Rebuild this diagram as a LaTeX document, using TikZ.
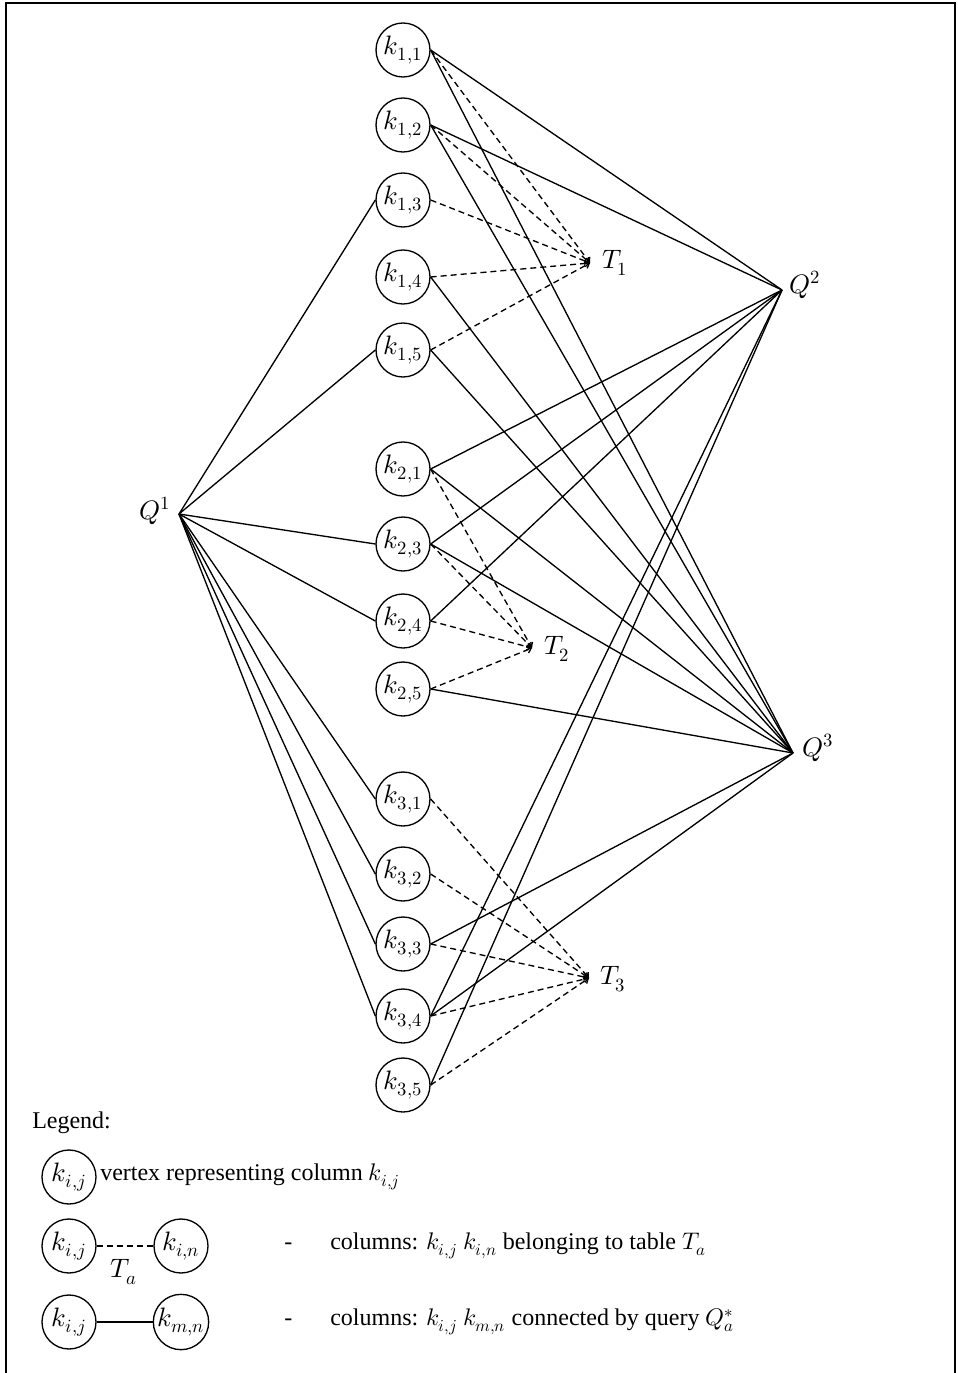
\documentclass[tikz,border=0pt]{standalone}
\usepackage{fontspec}
\usepackage{unicode-math}
\setmainfont{Liberation Serif}
\setmathfont{Latin Modern Math}
\usetikzlibrary{arrows.meta}
\begin{document}
\begin{tikzpicture}[x=0.75pt,y=-0.75pt,
 kv/.style={draw,circle,line width=1pt,minimum size=40.5pt,inner sep=0pt,font=\fontsize{20}{22}\selectfont},
 qe/.style={line width=1pt},
 te/.style={line width=1pt,dash pattern=on 4.5pt off 3pt,-{Straight Barb[length=3pt,width=5pt]}},
 lbl/.style={font=\fontsize{20}{22}\selectfont,inner sep=0pt},
 txt/.style={font=\fontsize{18}{20}\selectfont,anchor=west,inner sep=0pt}]
\useasboundingbox (0,0) rectangle (957,1373);
\draw[line width=1.3pt] (6,1373) -- (6,3) -- (955,3) -- (955,1373);

% column vertices
\node[kv] (k11) at (403,50) {$k_{1,1}$};
\node[kv] (k12) at (403,125) {$k_{1,2}$};
\node[kv] (k13) at (403,200) {$k_{1,3}$};
\node[kv] (k14) at (403,277) {$k_{1,4}$};
\node[kv] (k15) at (403,350) {$k_{1,5}$};
\node[kv] (k21) at (403,469) {$k_{2,1}$};
\node[kv] (k23) at (403,544) {$k_{2,3}$};
\node[kv] (k24) at (403,621) {$k_{2,4}$};
\node[kv] (k25) at (403,689) {$k_{2,5}$};
\node[kv] (k31) at (403,799) {$k_{3,1}$};
\node[kv] (k32) at (403,874) {$k_{3,2}$};
\node[kv] (k33) at (403,944) {$k_{3,3}$};
\node[kv] (k34) at (403,1016) {$k_{3,4}$};
\node[kv] (k35) at (403,1085) {$k_{3,5}$};

% query and table points
\coordinate (Q1) at (179,514); \node[lbl] (lq1) at (155,511) {$Q^1$};
\coordinate (Q2) at (782,290); \node[lbl] (lq2) at (805,285) {$Q^2$};
\coordinate (Q3) at (793,753); \node[lbl] (lq3) at (818,748) {$Q^3$};
\coordinate (T1) at (590,263); \node[lbl] (lt1) at (615,263) {$T_1$};
\coordinate (T2) at (532,648); \node[lbl] (lt2) at (557,649) {$T_2$};
\coordinate (T3) at (589,978); \node[lbl] (lt3) at (613,979) {$T_3$};

% Q1 edges
\foreach \k in {k13,k15,k23,k24,k31,k32,k33,k34}
  \draw[qe] (Q1) -- (\k.west);
% Q2 edges
\foreach \k in {k11,k12,k21,k23,k24,k34,k35}
  \draw[qe] (\k.east) -- (Q2);
% Q3 edges
\foreach \k in {k11,k12,k14,k15,k21,k23,k25,k33,k34}
  \draw[qe] (\k.east) -- (Q3);
% table edges
\foreach \k in {k11,k12,k13,k14,k15}
  \draw[te] (\k.east) -- (T1);
\foreach \k in {k21,k23,k24,k25}
  \draw[te] (\k.east) -- (T2);
\foreach \k in {k31,k32,k33,k34,k35}
  \draw[te] (\k.east) -- (T3);

% legend
\node[txt] (leg) at (32,1123) {Legend:};
\node[kv] (la) at (69,1177) {$k_{i,j}$};
\node[txt] (ta) at (100,1177) {vertex representing column $k_{i,j}$};
\node[kv] (lb1) at (69,1246) {$k_{i,j}$};
\node[kv] (lb2) at (181,1246) {$k_{i,n}$};
\draw[line width=1pt,dash pattern=on 4.5pt off 3pt] (lb1.east) -- (lb2.west);
\node[lbl] (lta) at (124,1272) {$T_a$};
\node[txt] (db) at (284,1246) {-};
\node[txt] (tb) at (330,1246) {columns: $k_{i,j}$ $k_{i,n}$ belonging to table $T_a$};
\node[kv] (lc1) at (69,1322) {$k_{i,j}$};
\node[kv] (lc2) at (181,1322) {$k_{m,n}$};
\draw[line width=1pt] (lc1.east) -- (lc2.west);
\node[txt] (dc) at (284,1322) {-};
\node[txt] (tc) at (330,1322) {columns: $k_{i,j}$ $k_{m,n}$ connected by query $Q_a^{*}$};
\end{tikzpicture}
\end{document}
